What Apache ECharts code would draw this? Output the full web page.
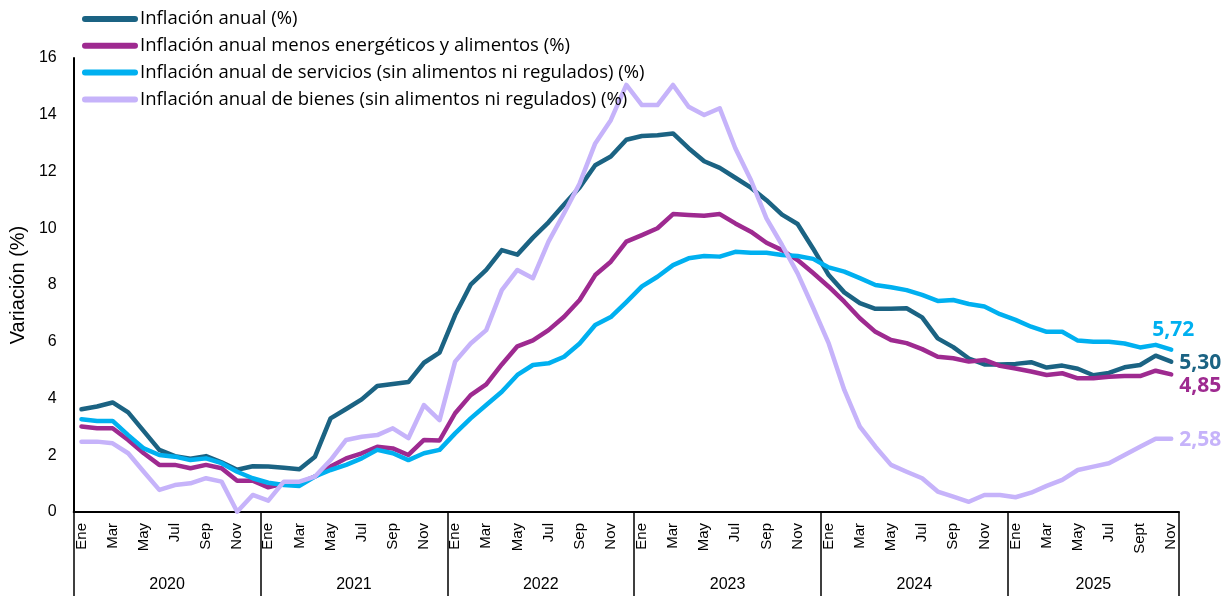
<!DOCTYPE html>
<html><head><meta charset="utf-8">
<script src="https://cdn.jsdelivr.net/npm/echarts@6/dist/echarts.min.js"></script>
<style>html,body{margin:0;padding:0;background:#fff}#c{width:1230px;height:596px}</style>
</head><body><div id="c"></div>
<script>
const years = ['2020','2021','2022','2023','2024','2025'];
const monthsPerYear = [12,12,12,12,12,11];
const monthLabels = ['Ene','Feb','Mar','Abr','May','Jun','Jul','Ago','Sep','Oct','Nov','Dic'];
const monthLabels2025 = ['Ene','Feb','Mar','Abr','May','Jun','Jul','Ago','Sept','Oct','Nov'];
const seriesNames = [
  'Inflación anual (%)',
  'Inflación anual menos energéticos y alimentos (%)',
  'Inflación anual de servicios (sin alimentos ni regulados) (%)',
  'Inflación anual de bienes (sin alimentos ni regulados) (%)'
];
const headline = [
  3.62,3.72,3.86,3.51,2.85,2.19,1.97,1.88,1.97,1.75,1.49,1.61,
  1.60,1.56,1.51,1.95,3.30,3.63,3.97,4.44,4.51,4.58,5.26,5.62,
  6.94,8.01,8.53,9.23,9.07,9.67,10.21,10.84,11.44,12.22,12.53,13.12,
  13.25,13.28,13.34,12.82,12.36,12.13,11.78,11.43,10.99,10.48,10.15,9.28,
  8.35,7.74,7.36,7.16,7.16,7.18,6.86,6.12,5.81,5.41,5.20,5.20,
  5.22,5.28,5.09,5.16,5.05,4.82,4.90,5.10,5.18,5.51,5.30
];
const core = [
  3.01,2.95,2.95,2.54,2.07,1.66,1.66,1.54,1.66,1.54,1.10,1.10,
  0.87,1.01,1.03,1.25,1.60,1.89,2.07,2.30,2.24,2.01,2.54,2.52,
  3.48,4.12,4.50,5.20,5.84,6.05,6.41,6.88,7.47,8.35,8.82,9.53,
  9.76,10.00,10.50,10.47,10.44,10.50,10.17,9.88,9.49,9.23,8.88,8.42,
  7.94,7.41,6.83,6.35,6.06,5.95,5.74,5.47,5.42,5.30,5.36,5.15,
  5.06,4.95,4.83,4.89,4.71,4.71,4.77,4.79,4.79,4.98,4.85
];
const services = [
  3.27,3.21,3.21,2.71,2.24,2.01,1.95,1.83,1.89,1.72,1.42,1.19,
  1.03,0.95,0.92,1.25,1.48,1.66,1.89,2.19,2.07,1.83,2.07,2.19,
  2.77,3.30,3.77,4.24,4.83,5.18,5.24,5.47,5.94,6.59,6.87,7.40,
  7.95,8.29,8.70,8.94,9.02,9.00,9.17,9.14,9.14,9.06,9.02,8.92,
  8.62,8.47,8.24,8.00,7.92,7.82,7.65,7.44,7.47,7.33,7.24,6.97,
  6.77,6.53,6.35,6.35,6.04,6.00,6.00,5.94,5.80,5.89,5.72
];
const goods = [
  2.48,2.48,2.42,2.07,1.42,0.78,0.95,1.01,1.19,1.07,0.01,0.60,
  0.40,1.07,1.07,1.25,1.83,2.54,2.65,2.71,2.95,2.60,3.77,3.24,
  5.30,5.94,6.41,7.82,8.53,8.24,9.53,10.53,11.58,12.99,13.81,15.05,
  14.34,14.34,15.05,14.28,13.99,14.23,12.82,11.70,10.35,9.41,8.41,7.20,
  5.94,4.30,3.01,2.30,1.66,1.42,1.19,0.72,0.54,0.36,0.60,0.60,
  0.52,0.68,0.92,1.13,1.48,1.60,1.72,2.01,2.30,2.58,2.58
];
const colors = ['#1B6383','#9E2A90','#00B0F0','#C6B3FA'];

// build category axis
const categories = [], catLabel = [], yearStart = [];
years.forEach((y, yi) => {
  yearStart.push(categories.length);
  const names = yi === years.length - 1 ? monthLabels2025 : monthLabels;
  for (let m = 0; m < monthsPerYear[yi]; m++) {
    categories.push(y + '-' + (m + 1));
    catLabel.push(names[m]);
  }
});
const yearLabelAt = {};
years.forEach((y, yi) => {
  const n = monthsPerYear[yi];
  const idx = yearStart[yi] + Math.floor((n - 1) / 2);
  yearLabelAt[idx] = { text: y, even: n % 2 === 0 };
});

const fmt = v => v.toFixed(2).replace('.', ',');
const endOffsets = [[0, 1], [0, 12], [-27, -20], [0, 1]];
const allData = [headline, core, services, goods];

const chart = echarts.init(document.getElementById('c'));
chart.setOption({
  animation: false,
  backgroundColor: '#fff',
  grid: { left: 73, right: 51, top: 58, bottom: 84, containLabel: false },
  legend: {
    data: seriesNames,
    orient: 'vertical',
    left: 77, top: 4,
    itemWidth: 50, itemHeight: 20, itemGap: 6.8,
    lineStyle: { width: 6, cap: 'round' },
    itemStyle: { opacity: 0 },
    textStyle: { fontFamily: 'Open Sans', fontSize: 18.5, color: '#000', lineHeight: 20 }
  },
  xAxis: [{
    type: 'category',
    data: categories,
    boundaryGap: true,
    axisLine: { show: true, lineStyle: { color: '#000', width: 2 } },
    axisTick: {
      show: true,
      interval: (i) => i % 12 === 0,
      length: 84,
      lineStyle: { color: '#000', width: 1.5 }
    },
    axisLabel: {
      interval: 1,
      rotate: 90,
      margin: 11,
      fontFamily: 'Liberation Sans',
      fontSize: 15,
      color: '#000',
      formatter: (v, i) => catLabel[i]
    },
    splitLine: { show: false }
  }, {
    type: 'category',
    data: categories,
    position: 'bottom',
    boundaryGap: true,
    axisLine: { show: false },
    axisTick: { show: false },
    axisLabel: {
      interval: (i) => yearLabelAt[i] !== undefined,
      margin: 65,
      fontFamily: 'Liberation Sans',
      fontSize: 16,
      color: '#000',
      formatter: (v, i) => {
        const y = yearLabelAt[i];
        if (!y) return '';
        return y.even ? '{a|' + y.text + '}' : '{b|' + y.text + '}';
      },
      rich: {
        a: { padding: [0, 0, 0, 15.6], fontFamily: 'Liberation Sans', fontSize: 16, color: '#000' },
        b: { fontFamily: 'Liberation Sans', fontSize: 16, color: '#000' }
      }
    }
  }],
  yAxis: {
    type: 'value',
    min: 0, max: 16, interval: 2,
    name: 'Variación (%)',
    nameLocation: 'middle',
    nameGap: 42,
    nameTextStyle: { fontFamily: 'Liberation Sans', fontSize: 20, color: '#000' },
    axisLine: { show: true, lineStyle: { color: '#000', width: 2 } },
    axisTick: { show: false },
    splitLine: { show: false },
    axisLabel: { fontFamily: 'Liberation Sans', fontSize: 16, color: '#000', margin: 17 }
  },
  series: allData.map((d, k) => ({
    name: seriesNames[k],
    type: 'line',
    data: d,
    symbol: 'none',
    color: colors[k],
    lineStyle: { width: 4.5, color: colors[k], cap: 'round', join: 'round' },
    endLabel: {
      show: true,
      formatter: (p) => fmt(p.value),
      distance: 8,
      offset: endOffsets[k],
      fontFamily: 'Open Sans',
      fontWeight: 'bold',
      fontSize: 21,
      color: colors[k]
    }
  }))
});
</script></body></html>
